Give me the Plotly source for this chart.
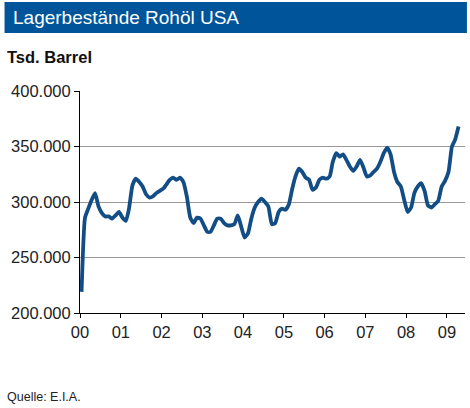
"""Lagerbestände Rohöl USA – monthly crude oil stocks, 2000 to 2009."""

import pandas as pd
import plotly.graph_objects as go

# Stocks in million barrels, one value per month starting January 2000
stocks_mio = [
    219, 286, 294, 302, 308, 296, 290, 287, 287, 285, 288, 291,
    286, 283, 294, 315, 321, 318, 314, 307, 304, 305, 308, 310,
    312, 316, 320, 322, 320, 322, 318, 305, 286, 281, 286, 285,
    279, 273, 273, 279, 285, 285, 281, 279, 279, 280, 288, 278,
    268, 272, 285, 295, 300, 303, 300, 296, 280, 281, 291, 294,
    293, 298, 311, 323, 330, 327, 322, 320, 311, 313, 320, 322,
    321, 323, 336, 344, 341, 343, 338, 332, 328, 332, 338, 331,
    323, 324, 327, 330, 336, 344, 349, 343, 327, 318, 314, 302,
    291, 295, 308, 314, 317, 310, 297, 295, 298, 301, 314, 319,
    327, 350, 356, 368,
]
stocks_tsd = [v * 1000 for v in stocks_mio]
months = pd.date_range("2000-01-01", periods=len(stocks_tsd), freq="MS") + pd.Timedelta(days=14)

title_text = "Lagerbestände Rohöl USA"
unit_text = "Tsd. Barrel"
source_text = "Quelle: E.I.A."

BAR_BLUE = "#00559a"
LINE_BLUE = "#134d85"
FONT = "Liberation Sans, Arial, sans-serif"

fig = go.Figure()
fig.add_trace(
    go.Scatter(
        x=months,
        y=stocks_tsd,
        mode="lines",
        line=dict(color=LINE_BLUE, width=3.8, shape="spline", smoothing=0.5),
        hoverinfo="x+y",
    )
)

fig.update_layout(
    width=470,
    height=408,
    margin=dict(l=79.5, r=5, t=91, b=95),
    paper_bgcolor="white",
    plot_bgcolor="white",
    showlegend=False,
    separators=",.",
    font=dict(family=FONT, color="#222222", size=16),
    shapes=[
        dict(
            type="rect", xref="paper", yref="paper",
            x0=-0.196, x1=1.005, y0=1.261, y1=1.401,
            fillcolor=BAR_BLUE, line=dict(width=0), layer="below",
        )
    ],
    annotations=[
        dict(
            text=title_text, xref="paper", yref="paper",
            x=-0.180, y=1.331, xanchor="left", yanchor="middle",
            showarrow=False, font=dict(color="white", size=19),
        ),
        dict(
            text=f"<b>{unit_text}</b>", xref="paper", yref="paper",
            x=-0.194, y=1.153, xanchor="left", yanchor="middle",
            showarrow=False, font=dict(color="#111111", size=16.5),
        ),
        dict(
            text=source_text, xref="paper", yref="paper",
            x=-0.194, y=-0.380, xanchor="left", yanchor="middle",
            showarrow=False, font=dict(color="#222222", size=12.5),
        ),
    ],
)

fig.update_xaxes(
    type="date",
    range=["2000-01-01", "2009-06-12"],
    tick0="2000-01-01",
    dtick="M12",
    tickformat="%y",
    ticks="outside",
    ticklen=4,
    tickcolor="black",
    showline=True,
    linecolor="black",
    linewidth=1,
    showgrid=False,
    zeroline=False,
    tickfont=dict(size=16.5),
)

fig.update_yaxes(
    range=[200000, 400000],
    dtick=50000,
    tickformat=",.0f",
    ticks="outside",
    ticklen=5,
    tickcolor="black",
    showline=True,
    linecolor="black",
    linewidth=1,
    showgrid=True,
    gridcolor="#999999",
    gridwidth=1,
    zeroline=False,
    tickfont=dict(size=16.5),
)

# the page body has a default 8px margin; drop it so the figure sits at 0,0
fig.write_html(
    "out.html",
    config={"displayModeBar": False},
    post_script="document.body.style.margin = '0';",
)
